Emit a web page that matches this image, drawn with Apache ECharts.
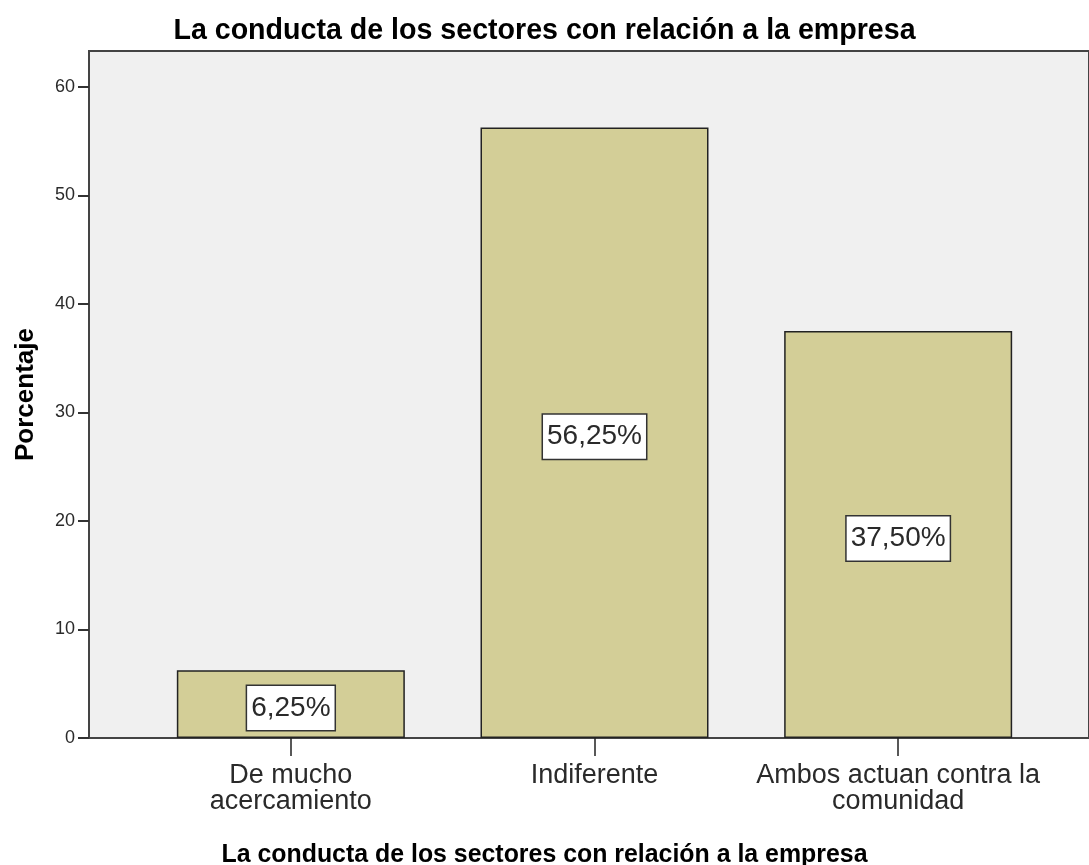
<!DOCTYPE html>
<html>
<head>
<meta charset="utf-8">
<script src="https://cdn.jsdelivr.net/npm/echarts@6/dist/echarts.min.js"></script>
<style>html,body{margin:0;padding:0;background:#fff}#c{width:1089px;height:865px}</style>
</head>
<body>
<div id="c"></div>
<script>
const titleText = 'La conducta de los sectores con relación a la empresa';
const xAxisName = 'La conducta de los sectores con relación a la empresa';
const yAxisName = 'Porcentaje';
const categories = ['De mucho\nacercamiento', 'Indiferente', 'Ambos actuan contra la\ncomunidad'];
const percentages = [6.25, 56.25, 37.50];
const yTicks = [0, 10, 20, 30, 40, 50, 60];
const yMax = 63.3;

const FONT = '"Liberation Sans", Arial, sans-serif';
const chart = echarts.init(document.getElementById('c'));
chart.setOption({
  animation: false,
  backgroundColor: '#ffffff',
  title: [
    { text: titleText, left: 'center', top: 12,
      textStyle: { fontFamily: FONT, fontSize: 28.6, fontWeight: 'bold', color: '#000' } },
    { text: xAxisName, left: 'center', top: 838,
      textStyle: { fontFamily: FONT, fontSize: 24.9, fontWeight: 'bold', color: '#000' } }
  ],
  grid: [
    { left: 89, right: -3, top: 51, bottom: 127, show: true, backgroundColor: '#f0f0f0',
      borderColor: '#444', borderWidth: 2 },
    { left: 139, right: 39, top: 51, bottom: 127, show: false }
  ],
  xAxis: [
    { gridIndex: 0, type: 'value', min: 0, max: 1, show: false },
    { gridIndex: 1, type: 'category', data: categories,
      axisLine: { show: false },
      axisTick: { show: true, alignWithLabel: true, length: 18, lineStyle: { color: '#222', width: 1.5 } },
      axisLabel: { fontFamily: FONT, fontSize: 27, lineHeight: 26, color: '#2a2a2a', margin: 25, interval: 0 } }
  ],
  yAxis: [
    { gridIndex: 0, type: 'value', min: 0, max: yMax, interval: 10,
      name: yAxisName, nameLocation: 'middle', nameRotate: 90, nameGap: 50,
      nameTextStyle: { fontFamily: FONT, fontSize: 26, fontWeight: 'bold', color: '#000' },
      axisLine: { show: true, lineStyle: { color: '#444', width: 2 } },
      axisTick: { show: true, length: 11, customValues: yTicks, lineStyle: { color: '#333', width: 2 } },
      axisLabel: { customValues: yTicks, fontFamily: FONT, fontSize: 18, color: '#2a2a2a', margin: 14 },
      splitLine: { show: false } },
    { gridIndex: 1, type: 'value', min: 0, max: yMax, show: false }
  ],
  series: [{
    type: 'bar', xAxisIndex: 1, yAxisIndex: 1, data: percentages, barWidth: 228,
    itemStyle: { color: '#d3ce97', borderColor: '#222', borderWidth: 1.5 },
    label: {
      show: true, position: 'inside',
      formatter: p => p.value.toFixed(2).replace('.', ',') + '%',
      fontFamily: FONT, fontSize: 28, lineHeight: 32, color: '#2a2a2a',
      backgroundColor: '#fff', borderColor: '#333', borderWidth: 1.5, padding: [6, 4, 6, 4],
      offset: [0, 4]
    }
  }]
});
</script>
</body>
</html>
